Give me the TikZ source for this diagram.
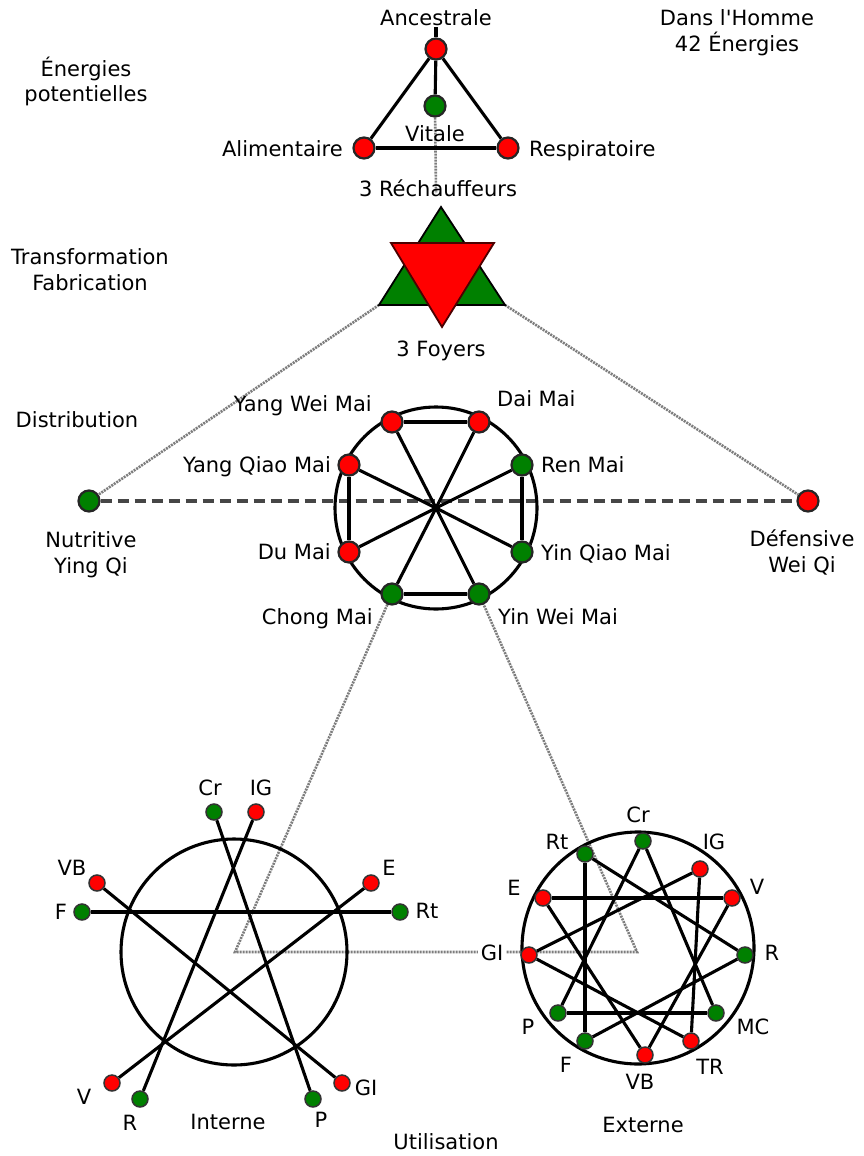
\documentclass[tikz,border=0pt]{standalone}
\usepackage{fontspec}
\setmainfont{DejaVu Sans}[Ligatures=TeXOff]
\definecolor{leafgreen}{RGB}{0,128,0}
\definecolor{dotgray}{RGB}{125,125,125}
\definecolor{dashgray}{RGB}{70,70,70}
\pgfdeclarelayer{backdrop}
\pgfdeclarelayer{background}
\pgfsetlayers{backdrop,background,main}
\begin{document}
\begin{tikzpicture}[x=1pt,y=-1pt,
  lbl/.style={inner sep=0pt, text height=17pt, text depth=2pt, font=\fontsize{21}{25}\selectfont},
  bignode/.style={circle, inner sep=0pt, minimum size=21pt, line width=2.2pt, draw=black!85},
  rbig/.style={bignode, fill=red},
  gbig/.style={bignode, fill=leafgreen},
  smallnode/.style={circle, inner sep=0pt, minimum size=16pt, line width=1.5pt, draw=black!80},
  rsmall/.style={smallnode, fill=red},
  gsmall/.style={smallnode, fill=leafgreen},
  bond/.style={line width=3.1pt, black},
  guide/.style={line width=2.6pt, dotgray, dash pattern=on 2pt off 1pt},
  axisline/.style={line width=3.4pt, dashgray, dash pattern=on 11pt off 6pt}]

\begin{pgfonlayer}{backdrop}
  \fill[white] (0,0) rectangle (863,1156);
\end{pgfonlayer}
\useasboundingbox (0,0) rectangle (863,1156);

% ---------- potential energies ----------
\node[rbig] (anc) at (436,49) {};
\node[gbig] (vit) at (435,106) {};
\node[rbig] (ali) at (364,148) {};
\node[rbig] (res) at (508,148) {};
\coordinate (ancTop) at (436,27);
\coordinate (vitEnd) at (436,193);

% ---------- 3 foyers ----------
\coordinate (gTop) at (441,207);
\coordinate (gL) at (379,305);
\coordinate (gR) at (505,305);
\coordinate (rL) at (391,243);
\coordinate (rR) at (494,243);
\coordinate (rB) at (442,327);
\fill[leafgreen, draw=black, line width=1.8pt, line join=miter] (gTop) -- (gL) -- (gR) -- cycle;
\fill[red, draw=black!70!red, line width=1.8pt, line join=miter] (rL) -- (rR) -- (rB) -- cycle;

% ---------- distribution ----------
\node[gbig] (nutr) at (89,501) {};
\node[rbig] (def) at (808,501) {};
\coordinate (hub) at (436,508);
\node[rbig] (ywm) at (392,422) {};
\node[rbig] (dai) at (479,422) {};
\node[gbig] (ren) at (522,465) {};
\node[gbig] (yiqm) at (522,552) {};
\node[gbig] (yiwm) at (479,594) {};
\node[gbig] (chong) at (392,594) {};
\node[rbig] (du) at (349,552) {};
\node[rbig] (yaqm) at (349,465) {};

% ---------- utilisation: interne ----------
\coordinate (lc) at (234,952);
\node[gsmall] (lCr) at (214,812) {};
\node[rsmall] (lIG) at (256,812) {};
\node[rsmall] (lVB) at (97,883) {};
\node[gsmall] (lF) at (82,912) {};
\node[rsmall] (lE) at (371,883) {};
\node[gsmall] (lRt) at (400,912) {};
\node[rsmall] (lV) at (112,1083) {};
\node[gsmall] (lR) at (140,1099) {};
\node[gsmall] (lP) at (313,1099) {};
\node[rsmall] (lGI) at (342,1083) {};

% ---------- utilisation: externe ----------
\coordinate (rc) at (638,948);
\node[gsmall] (rCr) at (643,841) {};
\node[gsmall] (rRt) at (585,854) {};
\node[rsmall] (rIG) at (700,869) {};
\node[rsmall] (rE) at (543,898) {};
\node[rsmall] (rV) at (732,898) {};
\node[rsmall] (rGI) at (529,955) {};
\node[gsmall] (rR) at (745,955) {};
\node[gsmall] (rP) at (558,1013) {};
\node[gsmall] (rMC) at (716,1013) {};
\node[gsmall] (rF) at (585,1041) {};
\node[rsmall] (rTR) at (691,1041) {};
\node[rsmall] (rVB) at (645,1055) {};

\coordinate (cornerL) at (235,952);
\coordinate (cornerR) at (637,952);

\begin{pgfonlayer}{background}
  % dotted guides and dashed axis
  \draw[axisline] (nutr) -- (def);
  \draw[guide] (vit) -- (vitEnd);
  \draw[guide] (gL) -- (nutr);
  \draw[guide] (gR) -- (def);
  \draw[guide] (chong) -- (cornerL) -- (cornerR) -- (yiwm);
  % triangle of potential energies
  \draw[bond] (anc) -- (ali);
  \draw[bond] (anc) -- (res);
  \draw[bond] (ali) -- (res);
  \draw[bond] (anc) -- (vit);
  \draw[bond] (anc) -- (ancTop);
  % wheel of the eight vessels
  \draw[bond] (hub) circle[radius=101];
  \draw[bond] (ywm) -- (dai);
  \draw[bond] (ren) -- (yiqm);
  \draw[bond] (yiwm) -- (chong);
  \draw[bond] (du) -- (yaqm);
  \foreach \v in {ywm,dai,ren,yiqm,yiwm,chong,du,yaqm}
    \draw[bond] (\v) -- (hub);
  % pentagram
  \draw[bond] (lc) circle[radius=113];
  \draw[bond] (lF) -- (lRt);
  \draw[bond] (lVB) -- (lGI);
  \draw[bond] (lCr) -- (lP);
  \draw[bond] (lIG) -- (lR);
  \draw[bond] (lE) -- (lV);
  % four interlaced triangles
  \draw[bond] (rc) circle[radius=116];
  \draw[bond] (rCr) -- (rP);  \draw[bond] (rP) -- (rMC);  \draw[bond] (rMC) -- (rCr);
  \draw[bond] (rIG) -- (rTR); \draw[bond] (rTR) -- (rGI); \draw[bond] (rGI) -- (rIG);
  \draw[bond] (rE) -- (rV);   \draw[bond] (rV) -- (rVB);  \draw[bond] (rVB) -- (rE);
  \draw[bond] (rRt) -- (rF);  \draw[bond] (rF) -- (rR);   \draw[bond] (rR) -- (rRt);
\end{pgfonlayer}

% ---------- labels ----------
\node[lbl] (tAnc) at (436,18) {Ancestrale};
\node[lbl] (tDans) at (737,18) {Dans l'Homme};
\node[lbl] (tQuar) at (737,44) {42 Énergies};
\node[lbl] (tEn1) at (86,69) {Énergies};
\node[lbl] (tEn2) at (86,94) {potentielles};
\node[lbl] (tVit) at (435,134) {Vitale};
\node[lbl, anchor=east] (tAli) at (343,149) {Alimentaire};
\node[lbl, anchor=west] (tRes) at (529,149) {Respiratoire};
\node[lbl] (tRech) at (438,189) {3 Réchauffeurs};
\node[lbl] (tTr1) at (90,257) {Transformation};
\node[lbl] (tTr2) at (90,283) {Fabrication};
\node[lbl] (tFoy) at (441,349) {3 Foyers};
\node[lbl] (tDist) at (77,420) {Distribution};

\node[lbl, anchor=east] (tYwm) at (372,404) {Yang Wei Mai};
\node[lbl, anchor=west] (tDai) at (497,399) {Dai Mai};
\node[lbl, anchor=west] (tRen) at (541,465) {Ren Mai};
\node[lbl, anchor=west] (tYiqm) at (541,553) {Yin Qiao Mai};
\node[lbl, anchor=west] (tYiwm) at (498,617) {Yin Wei Mai};
\node[lbl, anchor=east] (tChong) at (373,617) {Chong Mai};
\node[lbl, anchor=east] (tDu) at (331,552) {Du Mai};
\node[lbl, anchor=east] (tYaqm) at (331,465) {Yang Qiao Mai};

\node[lbl] (tNut1) at (91,540) {Nutritive};
\node[lbl] (tNut2) at (91,566) {Ying Qi};
\node[lbl] (tDef1) at (802,539) {Défensive};
\node[lbl] (tDef2) at (802,565) {Wei Qi};

\node[lbl] (tlCr) at (210,788) {Cr};
\node[lbl] (tlIG) at (261,788) {IG};
\node[lbl] (tlVB) at (72,868) {VB};
\node[lbl] (tlF) at (61,912) {F};
\node[lbl] (tlE) at (389,868) {E};
\node[lbl] (tlRt) at (427,911) {Rt};
\node[lbl] (tlV) at (84,1097) {V};
\node[lbl] (tlR) at (130,1123) {R};
\node[lbl] (tlP) at (321,1120) {P};
\node[lbl] (tlGI) at (366,1088) {GI};
\node[lbl] (tInt) at (228,1122) {Interne};

\node[lbl] (trCr) at (638,815) {Cr};
\node[lbl] (trRt) at (557,842) {Rt};
\node[lbl] (trIG) at (714,842) {IG};
\node[lbl] (trE) at (514,888) {E};
\node[lbl] (trV) at (757,887) {V};
\node[lbl, fill=white, inner xsep=3pt] (trGI) at (492,953) {GI};
\node[lbl] (trR) at (772,953) {R};
\node[lbl] (trP) at (528,1027) {P};
\node[lbl] (trMC) at (753,1027) {MC};
\node[lbl] (trF) at (566,1065) {F};
\node[lbl] (trVB) at (640,1082) {VB};
\node[lbl] (trTR) at (710,1067) {TR};
\node[lbl] (tExt) at (643,1125) {Externe};

\node[lbl] (tUtil) at (446,1142) {Utilisation};
\end{tikzpicture}
\end{document}
